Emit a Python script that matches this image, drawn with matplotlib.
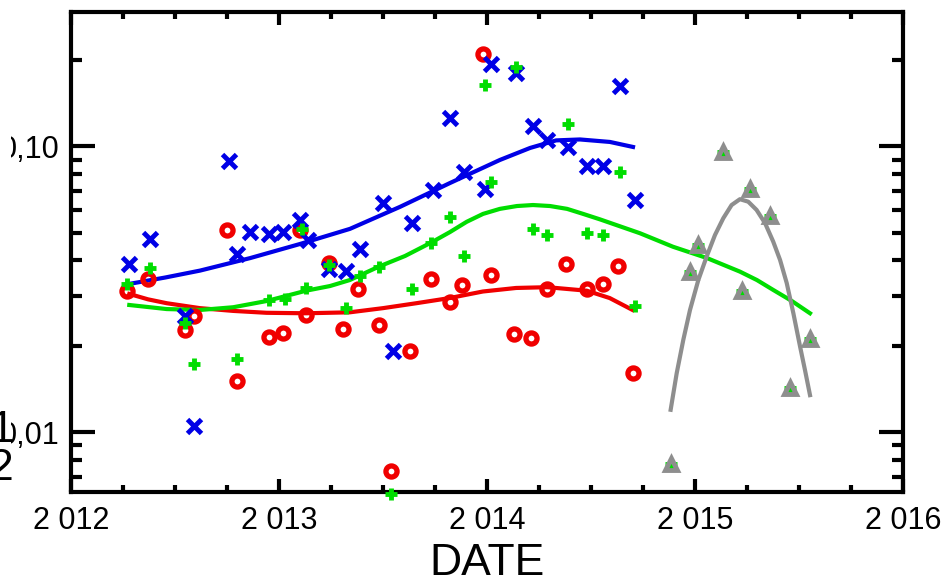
import matplotlib
matplotlib.use("Agg")
import matplotlib.pyplot as plt
import matplotlib.ticker as ticker
from matplotlib.patches import Rectangle

plt.rcParams['font.family'] = ['Liberation Sans', 'DejaVu Sans']

# scatter data (year, value)
blue_x = [2012.28, 2012.38, 2012.55, 2012.59, 2012.76, 2012.80, 2012.86, 2012.95, 2013.02, 2013.10,
          2013.14, 2013.24, 2013.32, 2013.39, 2013.50, 2013.55, 2013.64, 2013.74, 2013.82, 2013.89,
          2013.99, 2014.02, 2014.14, 2014.22, 2014.29, 2014.39, 2014.48, 2014.56, 2014.64, 2014.71]
blue_y = [0.0388, 0.0475, 0.0256, 0.0105, 0.089, 0.0421, 0.0502, 0.0494, 0.0502, 0.0553,
          0.0471, 0.0373, 0.0367, 0.0438, 0.0635, 0.0193, 0.054, 0.0705, 0.126, 0.0814,
          0.071, 0.194, 0.181, 0.118, 0.105, 0.0996, 0.0855, 0.0855, 0.163, 0.065]

red_x = [2012.27, 2012.37, 2012.55, 2012.59, 2012.75, 2012.80, 2012.95, 2013.02, 2013.10, 2013.13,
         2013.24, 2013.31, 2013.38, 2013.48, 2013.54, 2013.63, 2013.73, 2013.82, 2013.88, 2013.98,
         2014.02, 2014.13, 2014.21, 2014.29, 2014.38, 2014.48, 2014.56, 2014.63, 2014.70]
red_y = [0.0313, 0.0344, 0.0228, 0.0256, 0.051, 0.0151, 0.0216, 0.0223, 0.051, 0.0258,
         0.0391, 0.023, 0.0318, 0.0238, 0.00733, 0.0193, 0.0344, 0.0286, 0.0328, 0.211,
         0.0355, 0.0221, 0.0214, 0.0318, 0.0388, 0.0318, 0.0331, 0.0382, 0.0161]

green_x = [2012.27, 2012.38, 2012.55, 2012.59, 2012.80, 2012.95, 2013.03, 2013.11, 2013.13, 2013.24,
           2013.32, 2013.39, 2013.48, 2013.54, 2013.64, 2013.73, 2013.82, 2013.89, 2013.99, 2014.02,
           2014.14, 2014.22, 2014.29, 2014.39, 2014.48, 2014.56, 2014.64, 2014.71]
green_y = [0.0331, 0.0376, 0.0242, 0.0174, 0.0181, 0.0291, 0.0293, 0.0515, 0.032, 0.0385,
           0.0272, 0.0353, 0.0379, 0.0061, 0.0318, 0.046, 0.0567, 0.0414, 0.164, 0.0752,
           0.190, 0.0515, 0.049, 0.120, 0.0498, 0.049, 0.0814, 0.0277]

tri_x = [2014.885, 2014.976, 2015.014, 2015.135, 2015.226, 2015.264, 2015.361, 2015.457, 2015.553]
tri_y = [0.00776, 0.0364, 0.0452, 0.0957, 0.0313, 0.071, 0.0571, 0.0143, 0.0212]

# trend curves
blue_fit_x = [2012.284, 2012.452, 2012.620, 2012.861, 2013.101, 2013.341, 2013.582, 2013.822,
              2014.062, 2014.207, 2014.332, 2014.447, 2014.591, 2014.702]
blue_fit_y = [0.0331, 0.0348, 0.0368, 0.0407, 0.0456, 0.0515, 0.0615, 0.0745,
              0.0897, 0.0988, 0.105, 0.1058, 0.1037, 0.0996]

red_fit_x = [2012.28, 2012.37, 2012.46, 2012.62, 2012.78, 2012.94, 2013.13, 2013.34, 2013.50,
             2013.66, 2013.82, 2013.98, 2014.14, 2014.29, 2014.48, 2014.59, 2014.70]
red_fit_y = [0.0305, 0.0292, 0.0283, 0.0272, 0.0266, 0.0262, 0.0261, 0.0263, 0.0272,
             0.0283, 0.0295, 0.0311, 0.032, 0.0322, 0.0313, 0.0295, 0.0268]

green_fit_x = [2012.28, 2012.46, 2012.62, 2012.78, 2012.94, 2013.13, 2013.245, 2013.34, 2013.48,
               2013.606, 2013.731, 2013.822, 2013.902, 2013.981, 2014.062, 2014.144, 2014.221,
               2014.303, 2014.385, 2014.462, 2014.543, 2014.736, 2014.894, 2015.058, 2015.216,
               2015.298, 2015.376, 2015.466, 2015.553]
green_fit_y = [0.0279, 0.027, 0.0268, 0.0274, 0.0288, 0.0313, 0.0325, 0.0341, 0.038,
               0.0414, 0.0461, 0.0502, 0.0545, 0.0581, 0.0605, 0.0619, 0.0624,
               0.0619, 0.0605, 0.0581, 0.0556, 0.0497, 0.0446, 0.0407, 0.0365,
               0.0341, 0.0315, 0.0288, 0.0261]

gray_fit_x = [2014.883, 2014.912, 2014.944, 2014.976, 2015.016, 2015.056, 2015.096, 2015.136,
              2015.176, 2015.216, 2015.256, 2015.296, 2015.337, 2015.376, 2015.409, 2015.441,
              2015.473, 2015.505, 2015.529, 2015.553]
gray_fit_y = [0.0120, 0.0161, 0.0211, 0.0268, 0.0341, 0.0412, 0.049, 0.0561,
              0.0624, 0.0654, 0.0641, 0.060, 0.0539, 0.0465, 0.0401, 0.0333,
              0.0261, 0.020, 0.0165, 0.0135]

BLUE = '#0000e6'
RED = '#f00000'
GREEN = '#00dd00'
GRAY = '#8e8e8e'

fig = plt.figure(figsize=(9.51, 5.79), dpi=100)
ax = fig.add_axes([0.0747, 0.1503, 0.8748, 0.829])
ax.set_yscale('log')

ax.plot(red_fit_x, red_fit_y, color=RED, lw=3, zorder=2, solid_joinstyle='round')
ax.plot(blue_fit_x, blue_fit_y, color=BLUE, lw=3, zorder=2, solid_joinstyle='round')
ax.plot(green_fit_x, green_fit_y, color=GREEN, lw=3, zorder=2, solid_joinstyle='round')

ax.plot(red_x, red_y, 'o', ms=8, mfc='none', mec=RED, mew=3.8, zorder=3)
ax.plot(blue_x, blue_y, 'x', ms=10, mec=BLUE, mew=3.5, zorder=4)
ax.plot(green_x, green_y, '+', ms=9, mec=GREEN, mew=3.5, zorder=5, clip_on=False)
ax.plot(tri_x, tri_y, '+', ms=9, mec=GREEN, mew=3.5, zorder=5)
ax.plot(tri_x, tri_y, '^', ms=9, mfc='none', mec=GRAY, mew=3.5, zorder=6)
ax.plot(gray_fit_x, gray_fit_y, color=GRAY, lw=3, zorder=6, solid_joinstyle='round')

ax.set_xlim(2012, 2016)
ax.set_ylim(0.00619, 0.2953)

for s in ax.spines.values():
    s.set_linewidth(3)

ax.xaxis.set_major_locator(ticker.MultipleLocator(1))
ax.xaxis.set_minor_locator(ticker.MultipleLocator(0.25))
ax.xaxis.set_major_formatter(ticker.FuncFormatter(lambda v, p: f"{int(round(v)):,}".replace(',', ' ')))
ax.yaxis.set_major_locator(ticker.LogLocator(base=10))
ax.yaxis.set_minor_locator(ticker.LogLocator(base=10, subs=range(2, 10)))
ax.yaxis.set_minor_formatter(ticker.NullFormatter())
ax.yaxis.set_major_formatter(ticker.FuncFormatter(lambda v, p: f"{v:.2f}".replace('.', ',')))

ax.tick_params(axis='both', which='both', direction='in', width=3, top=True, right=True, labelsize=22)
ax.tick_params(axis='x', which='major', length=9.5, pad=10)
ax.tick_params(axis='x', which='minor', length=5)
ax.tick_params(axis='y', which='major', length=17, pad=8)
ax.tick_params(axis='y', which='minor', length=8)

ax.set_xlabel('DATE', fontsize=32, labelpad=5)

# left edge: labels cut off in the original image
fig.patches.append(Rectangle((0, 0), 11 / 951, 1, transform=fig.transFigure,
                             facecolor='white', edgecolor='none', zorder=10))
fig.text(2 / 951, 1 - 431 / 579, '1', fontsize=32, ha='center', va='center', zorder=11)
fig.text(1 / 951, 1 - 469 / 579, '2', fontsize=32, ha='center', va='center', zorder=11)

fig.savefig('out.png', dpi=100)
